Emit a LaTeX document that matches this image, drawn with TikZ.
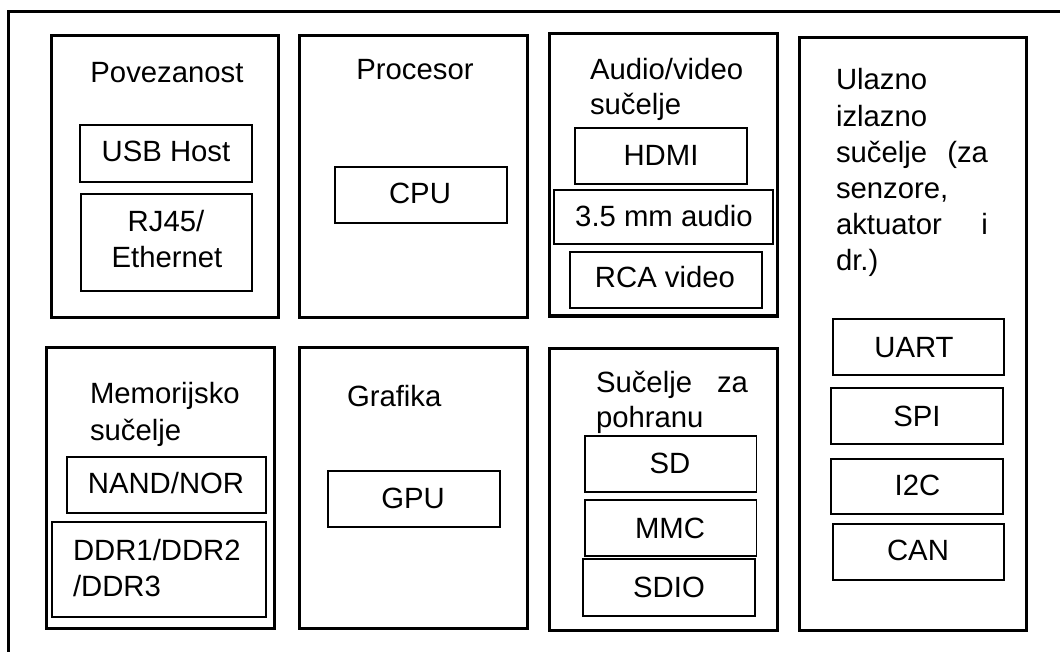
\documentclass[tikz,border=0pt]{standalone}
\usepackage{fontspec}
\setmainfont{Liberation Sans}
\newcommand{\mybox}[6]{%
  \node[#2, minimum width={#5-#3}, minimum height={#6-#4}, anchor=north west] (#1) at (#3,#4) {};}
\tikzset{
  bigbox/.style={draw=black, line width=3pt, inner sep=0pt, outer sep=0pt},
  smallbox/.style={draw=black, line width=1.4pt, inner sep=0pt, outer sep=0pt},
  txt/.style={inner sep=0pt, outer sep=0pt, font=\fontsize{29.3}{36.3}\selectfont, text=black},
}
\begin{document}
\begin{tikzpicture}[x=1pt, y=-1pt]
\useasboundingbox (0,0) rectangle (1060,652);
% outer frame (only top and left edges visible)
\coordinate (fr1) at (1060,11.7);
\coordinate (fr2) at (8.7,11.7);
\coordinate (fr3) at (8.7,652);
\draw[line width=2.7pt] (fr1) -- (fr2) -- (fr3);

% ---------- Povezanost ----------
\mybox{povez}{bigbox}{51}{36}{278}{317}
\node[txt, anchor=base] (povezT) at (167,83) {Povezanost};
\mybox{usb}{smallbox}{80}{125}{252}{182}
\node[txt, anchor=base] (usbT) at (166,162) {USB Host};
\mybox{rj}{smallbox}{81}{194}{252}{291}
\node[txt, anchor=base] (rjT1) at (166,232) {RJ45/};
\node[txt, anchor=base] (rjT2) at (167,268) {Ethernet};

% ---------- Procesor ----------
\mybox{proc}{bigbox}{299}{36}{527}{317}
\node[txt, anchor=base] (procT) at (415,80) {Procesor};
\mybox{cpu}{smallbox}{335}{167}{507}{223}
\node[txt, anchor=base] (cpuT) at (420,204) {CPU};

% ---------- Audio/video ----------
\mybox{av}{bigbox}{549}{34}{777}{316}
\node[txt, anchor=base west] (avT1) at (590,80) {Audio/video};
\node[txt, anchor=base west] (avT2) at (590,115) {sučelje};
\mybox{hdmi}{smallbox}{575}{128}{747}{184}
\node[txt, anchor=base] (hdmiT) at (661,166) {HDMI};
\mybox{jack}{smallbox}{554}{190}{773}{244}
\node[txt, anchor=base] (jackT) at (664,227) {3.5 mm audio};
\mybox{rca}{smallbox}{570}{252}{762}{308}
\node[txt, anchor=base] (rcaT) at (665,288) {RCA video};

% ---------- Ulazno izlazno ----------
\mybox{io}{bigbox}{799}{38}{1026}{630}
\node[txt, anchor=base west] (ioT1) at (836,90) {Ulazno};
\node[txt, anchor=base west] (ioT2) at (836,126.5) {izlazno};
\node[txt, anchor=base west] (ioT3) at (836,163) {\makebox[152pt][s]{sučelje (za}};
\node[txt, anchor=base west] (ioT4) at (836,199) {senzore,};
\node[txt, anchor=base west] (ioT5) at (836,235) {\makebox[152pt][s]{aktuator i}};
\node[txt, anchor=base west] (ioT6) at (836,271) {dr.)};
\mybox{uart}{smallbox}{833}{319}{1004}{375}
\node[txt, anchor=base] (uartT) at (914,357) {UART};
\mybox{spi}{smallbox}{831}{388}{1003}{444}
\node[txt, anchor=base] (spiT) at (917,426) {SPI};
\mybox{iic}{smallbox}{831}{459}{1003}{514}
\node[txt, anchor=base] (iicT) at (917.5,495) {I2C};
\mybox{can}{smallbox}{833}{524}{1004}{580}
\node[txt, anchor=base] (canT) at (918,560) {CAN};

% ---------- Memorijsko sucelje ----------
\mybox{mem}{bigbox}{46.5}{347}{274.5}{628}
\node[txt, anchor=base west] (memT1) at (90,403) {Memorijsko};
\node[txt, anchor=base west] (memT2) at (90,440) {sučelje};
\mybox{nand}{smallbox}{67}{457}{266}{513}
\node[txt, anchor=base] (nandT) at (166,493) {NAND/NOR};
\mybox{ddr}{smallbox}{52}{522}{266}{617}
\node[txt, anchor=base west] (ddrT1) at (73,560) {DDR1/DDR2};
\node[txt, anchor=base west] (ddrT2) at (73,596) {/DDR3};

% ---------- Grafika ----------
\mybox{graf}{bigbox}{299}{347}{527}{628}
\node[txt, anchor=base west] (grafT) at (347,406) {Grafika};
\mybox{gpu}{smallbox}{328}{471}{500}{527}
\node[txt, anchor=base] (gpuT) at (413,508) {GPU};

% ---------- Sucelje za pohranu ----------
\mybox{stor}{bigbox}{549}{348}{777}{630}
\node[txt, anchor=base west] (storT1) at (596,392) {\makebox[152pt][s]{Sučelje za}};
\node[txt, anchor=base west] (storT2) at (596,427) {pohranu};
\mybox{sd}{smallbox}{585}{436}{756.5}{492}
\node[txt, anchor=base] (sdT) at (670,473) {SD};
\mybox{mmc}{smallbox}{585}{500}{756.5}{556}
\node[txt, anchor=base] (mmcT) at (670,538) {MMC};
\mybox{sdio}{smallbox}{583}{559}{755}{616}
\node[txt, anchor=base] (sdioT) at (669,597) {SDIO};
\end{tikzpicture}
\end{document}
